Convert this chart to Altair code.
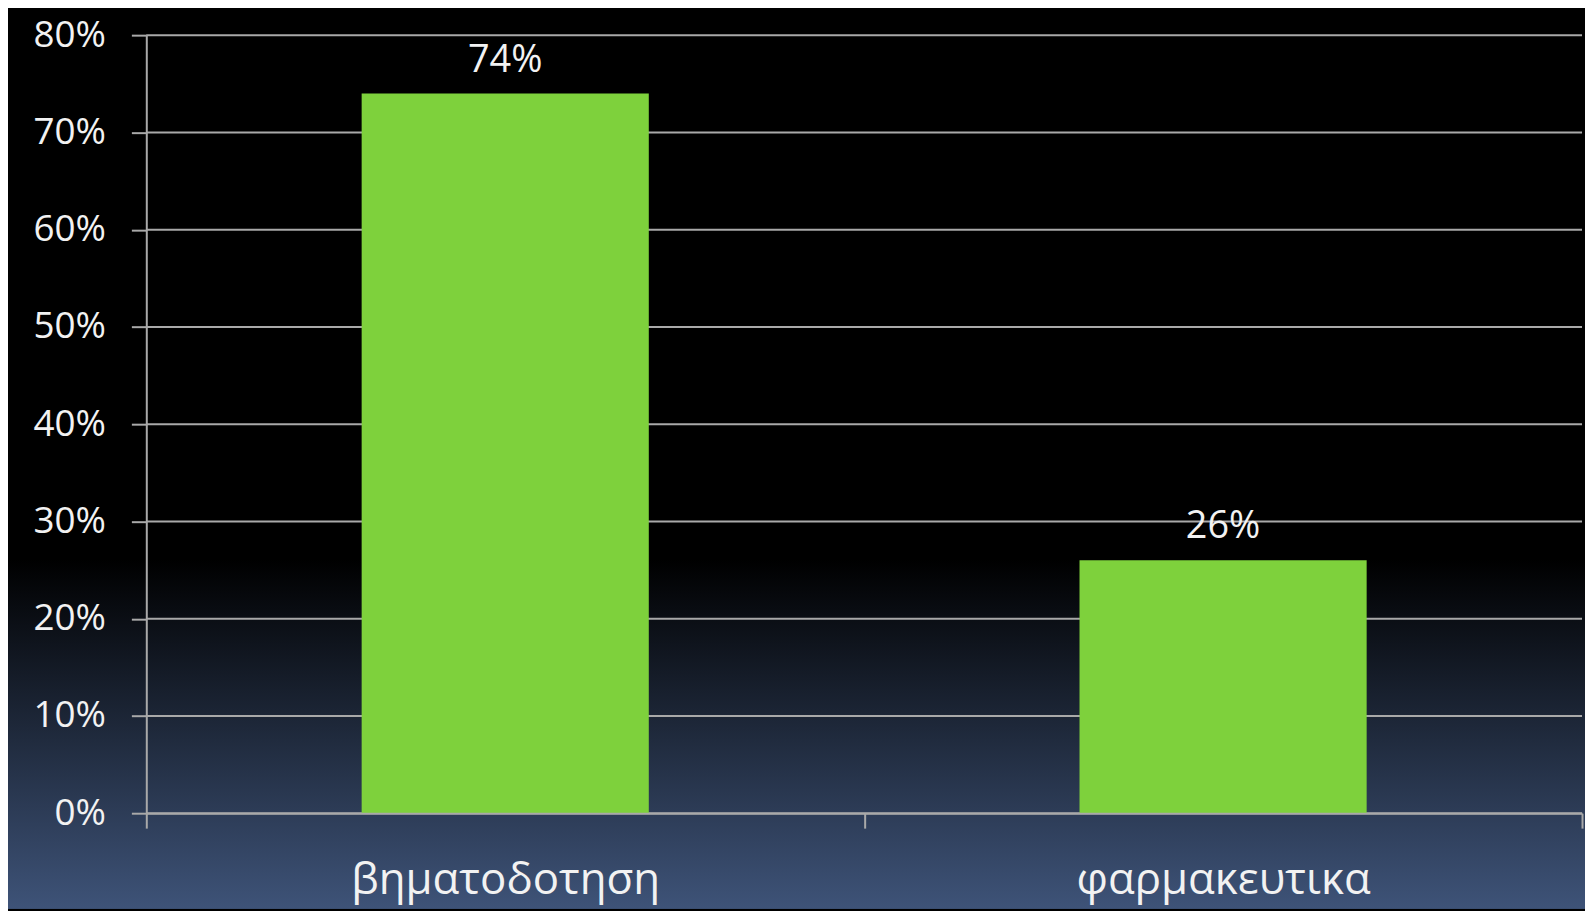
import altair as alt
import pandas as pd

categories = ["βηματοδοτηση", "φαρμακευτικα"]
values = [0.74, 0.26]
value_labels = ["74%", "26%"]
y_ticks = [0.0, 0.1, 0.2, 0.3, 0.4, 0.5, 0.6, 0.7, 0.8]

W, H = 1443, 782
PAD_L, PAD_T, PAD_R, PAD_B = 139, 25, 3, 96

df = pd.DataFrame({"cat": categories, "val": values, "lab": value_labels})
grid_df = pd.DataFrame({"t": y_ticks})

FONT = "Open Sans"
GRID = "#a9a9a9"

x_scale = alt.Scale(domain=categories, paddingInner=0, paddingOuter=0)
y_scale = alt.Scale(domain=[0, 0.8], nice=False)

x_axis = alt.Axis(labelAngle=0, tickBand="extent", tickSize=15, tickColor=GRID,
                  tickWidth=2, domainColor=GRID, domainWidth=2, labelLimit=0,
                  labelFontSize=44, labelColor="#f2f2f2", labelFont=FONT,
                  labelPadding=31, zindex=1)
y_axis = alt.Axis(values=y_ticks, format=".0%", tickSize=15, tickColor=GRID,
                  tickWidth=2, domainColor=GRID, domainWidth=2, grid=False,
                  labelFontSize=37, labelColor="#f2f2f2", labelFont=FONT,
                  labelPadding=26, zindex=1)

gradient = alt.LinearGradient(
    gradient="linear",
    stops=[
        alt.GradientStop(offset=0, color="#000000"),
        alt.GradientStop(offset=0.611, color="#000000"),
        alt.GradientStop(offset=1, color="#3e5378"),
    ],
    x1=0, x2=0, y1=0, y2=1,
)

bg = alt.Chart(df).mark_rect(color=gradient, clip=False).encode(
    x=alt.value(-PAD_L), x2=alt.value(W + PAD_R),
    y=alt.value(-PAD_T), y2=alt.value(H + PAD_B),
)

grid = alt.Chart(grid_df).mark_rule(color=GRID, strokeWidth=2).encode(
    y=alt.Y("t:Q", scale=y_scale, axis=y_axis, title=None),
    x=alt.value(0), x2=alt.value(W),
)

bars = alt.Chart(df).mark_bar(color="#7ED13C", width=alt.RelativeBandSize(0.4)).encode(
    x=alt.X("cat:N", scale=x_scale, sort=categories, title=None, axis=x_axis),
    y=alt.Y("val:Q", scale=y_scale, title=None, axis=y_axis),
)

text = alt.Chart(df).mark_text(baseline="bottom", dy=-14, fontSize=38, color="#f2f2f2", font=FONT).encode(
    x=alt.X("cat:N", scale=x_scale, sort=categories, title=None, axis=x_axis),
    y=alt.Y("val:Q", scale=y_scale, title=None, axis=y_axis),
    text="lab:N",
)

chart = alt.layer(bg, grid, bars, text).properties(
    width=W, height=H,
    padding={"left": PAD_L, "top": PAD_T, "right": PAD_R, "bottom": PAD_B},
    autosize=alt.AutoSizeParams(type="none"),
    background="#000000",
).configure_view(stroke=None)

chart.save("out.html", embed_options={"renderer": "svg", "actions": False})
